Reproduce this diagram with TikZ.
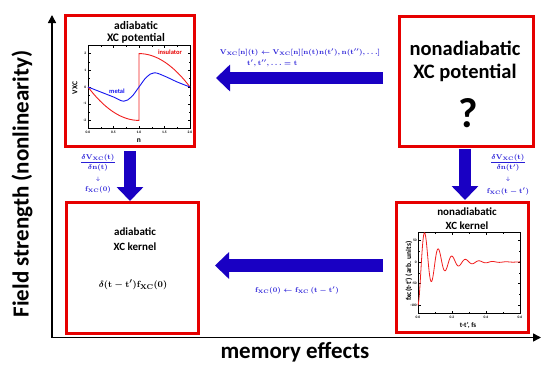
\documentclass[tikz,border=0pt]{standalone}
\usepackage[no-math]{fontspec}
\setmainfont{Carlito}
\usetikzlibrary{arrows.meta}
\definecolor{boxred}{RGB}{230,0,0}
\definecolor{arrblue}{RGB}{25,0,195}
\definecolor{txtblue}{RGB}{40,30,215}
\definecolor{metalblue}{RGB}{20,20,240}
\definecolor{curvered}{RGB}{240,30,30}
\newcommand{\fsz}[1]{\fontsize{#1}{#1}\selectfont}
\begin{document}
\begin{tikzpicture}[x=1pt,y=-1pt,
  panel/.style={draw=boxred,line width=3pt,inner sep=0pt,outer sep=0pt},
  title/.style={inner sep=0pt,font={\fsz{#1}\bfseries}},
  mathlab/.style={inner sep=0pt,text=txtblue,font={\fsz{#1}\boldmath}},
  bigarrow/.style={draw=arrblue,line width=12.5pt,-{Triangle[length=14pt,width=26pt]}},
  axisline/.style={draw=black,line width=1.6pt,{Triangle[length=8pt,width=8pt]}-{Triangle[length=8pt,width=8pt]}},
  ticklab/.style={inner sep=0pt,font={\fsz{3.6}\bfseries}},
  frame/.style={draw=black,line width=0.6pt},
  tick/.style={draw=black,line width=0.35pt}]
\useasboundingbox (0,0) rectangle (550,367);

% axes
\coordinate (Ytip) at (52,15);
\coordinate (O) at (52,337.5);
\coordinate (Xtip) at (541,337.5);
\draw[axisline] (Ytip) -- (O) -- (Xtip);
\node[title=23,rotate=90] (ylab) at (22,184) {Field strength (nonlinearity)};
\node[title=23] (xlab) at (295,352) {memory effects};

% panels
\node[panel,minimum width=129pt,minimum height=131pt] (A) at (129.5,80.5) {};
\node[panel,minimum width=134pt,minimum height=130pt] (B) at (466,81) {};
\node[panel,minimum width=132pt,minimum height=131pt] (C) at (132,267.5) {};
\node[panel,minimum width=132pt,minimum height=130pt] (D) at (462,267) {};

% connectors
\coordinate (ABs) at (383,78);
\coordinate (ABe) at (216,78);
\coordinate (DCs) at (383,265.5);
\coordinate (DCe) at (215,265.5);
\coordinate (ACs) at (130,151);
\coordinate (ACe) at (130,201);
\coordinate (BDs) at (465,149);
\coordinate (BDe) at (465,200);
\draw[bigarrow] (ABs) -- (ABe);
\draw[bigarrow] (DCs) -- (DCe);
\draw[bigarrow] (ACs) -- (ACe);
\draw[bigarrow] (BDs) -- (BDe);

% arrow labels
\node[mathlab=7.3] (ABl1) at (300,52) {$\mathbf{V_{XC}[n](t)}\leftarrow\mathbf{V_{XC}[n][n(t)n(t'),n(t''),\ldots]}$};
\node[mathlab=7.3,anchor=west] (ABl2) at (247,63) {$\mathbf{t',t'',\ldots=t}$};
\node[mathlab=7.3] (DCl) at (297,290) {$\mathbf{f_{XC}(0)}\leftarrow\mathbf{f_{XC}\,(t-t')}$};
\node[mathlab=7.5] (ACf) at (98,162.5) {$\displaystyle\frac{\delta\mathbf{V_{XC}(t)}}{\delta\mathbf{n(t)}}$};
\node[mathlab=5] (ACa) at (98,179) {$\downarrow$};
\node[mathlab=7.5] (ACr) at (98,190) {$\mathbf{f_{XC}(0)}$};
\node[mathlab=7.5] (BDf) at (508,162.5) {$\displaystyle\frac{\delta\mathbf{V_{XC}(t)}}{\delta\mathbf{n(t')}}$};
\node[mathlab=5] (BDa) at (508,179) {$\downarrow$};
\node[mathlab=7.5] (BDr) at (508,191) {$\mathbf{f_{XC}(t-t')}$};

% panel A text and plot
\node[title=11.5] (At1) at (136,25) {adiabatic};
\node[title=11.5] (At2) at (136,38.5) {XC potential};
\draw[frame] (88,45) rectangle (190,128);
\foreach \v/\py [count=\i] in {2/53.6,1/70.3,0/87,-1/103.7,-2/120.4} {
  \draw[tick] (88,\py) -- (90.5,\py);
  \draw[tick] (190,\py) -- (187.5,\py);
  \node[ticklab,anchor=east] (Ay\i) at (86.5,\py) {\v};
}
\foreach \py in {61.95,78.65,95.35,112.05} {
  \draw[tick] (88,\py) -- (89.5,\py);
  \draw[tick] (190,\py) -- (188.5,\py);
}
\foreach \v/\px [count=\i] in {0.0/88,0.5/113.5,1.0/139,1.5/164.5,2.0/190} {
  \draw[tick] (\px,128) -- (\px,125.5);
  \draw[tick] (\px,45) -- (\px,47.5);
  \node[ticklab] (Ax\i) at (\px,132.5) {\v};
}
\foreach \px in {100.75,126.25,151.75,177.25} {
  \draw[tick] (\px,128) -- (\px,126.5);
  \draw[tick] (\px,45) -- (\px,46.5);
}
\node[title=7.5,rotate=90] (Aylab) at (75,88) {VXC};
\node[title=7.5] (Axlab) at (139,141) {n};
\draw[curvered,line width=0.9pt] plot[domain=0:1,samples=40] ({88+51*\x},{87+33.4*(2*\x-\x*\x)})
  -- plot[domain=1:2,samples=40] ({88+51*\x},{87-33.4*(1-(\x-1)*(\x-1))});
\draw[metalblue,line width=0.9pt] plot[smooth,tension=0.6] coordinates {(88,87) (100.75,92) (113.5,97) (123.7,101.2) (131.35,97) (139,87) (146.65,77) (154.3,72.8) (164.5,76.1) (177.25,82) (190,87)};
\node[title=6.5,text=boxred] (Ains) at (170,52) {insulator};
\node[title=6.5,text=metalblue] (Amet) at (117,91) {metal};

% panel B text
\node[title=20.5] (Bt1) at (465,48) {nonadiabatic};
\node[title=20.5] (Bt2) at (465,73) {XC potential};
\node[title=42] (Bq) at (468,113) {?};

% panel C text
\node[title=11] (Ct1) at (135,232) {adiabatic};
\node[title=11] (Ct2) at (135,247) {XC kernel};
\node[inner sep=0pt,font={\fsz{9.5}\boldmath}] (Cf) at (133,285) {$\delta\mathbf{(t-t')f_{XC}(0)}$};

% panel D text and plot
\node[title=11] (Dt1) at (467,212) {nonadiabatic};
\node[title=11] (Dt2) at (467,225.5) {XC kernel};
\draw[frame] (418,232) rectangle (520,313);
\foreach \v/\py [count=\i] in {50/240.35,0/262,-50/283.65,-100/305.3} {
  \draw[tick] (418,\py) -- (420.5,\py);
  \draw[tick] (520,\py) -- (517.5,\py);
  \node[ticklab,anchor=east] (Dy\i) at (417,\py) {\v};
}
\foreach \py in {251.2,272.8,294.5} {
  \draw[tick] (418,\py) -- (419.5,\py);
  \draw[tick] (520,\py) -- (518.5,\py);
}
\foreach \v/\px [count=\i] in {0.0/418,0.2/452,0.4/486,0.6/520} {
  \draw[tick] (\px,313) -- (\px,310.5);
  \draw[tick] (\px,232) -- (\px,234.5);
  \node[ticklab] (Dx\i) at (\px,317.5) {\v};
}
\foreach \px in {435,469,503} {
  \draw[tick] (\px,313) -- (\px,311.5);
  \draw[tick] (\px,232) -- (\px,233.5);
}
\node[title=7.5,rotate=90] (Dylab) at (409,271) {fxc(t-t') (arb. units)};
\node[title=7] (Dxlab) at (468,325) {t-t', fs};
\draw[curvered,line width=0.8pt] plot[domain=0:0.6,samples=400] ({418+170*\x},{262+43.3*cos(4500*\x)*exp(-\x/0.1)});
\end{tikzpicture}
\end{document}
